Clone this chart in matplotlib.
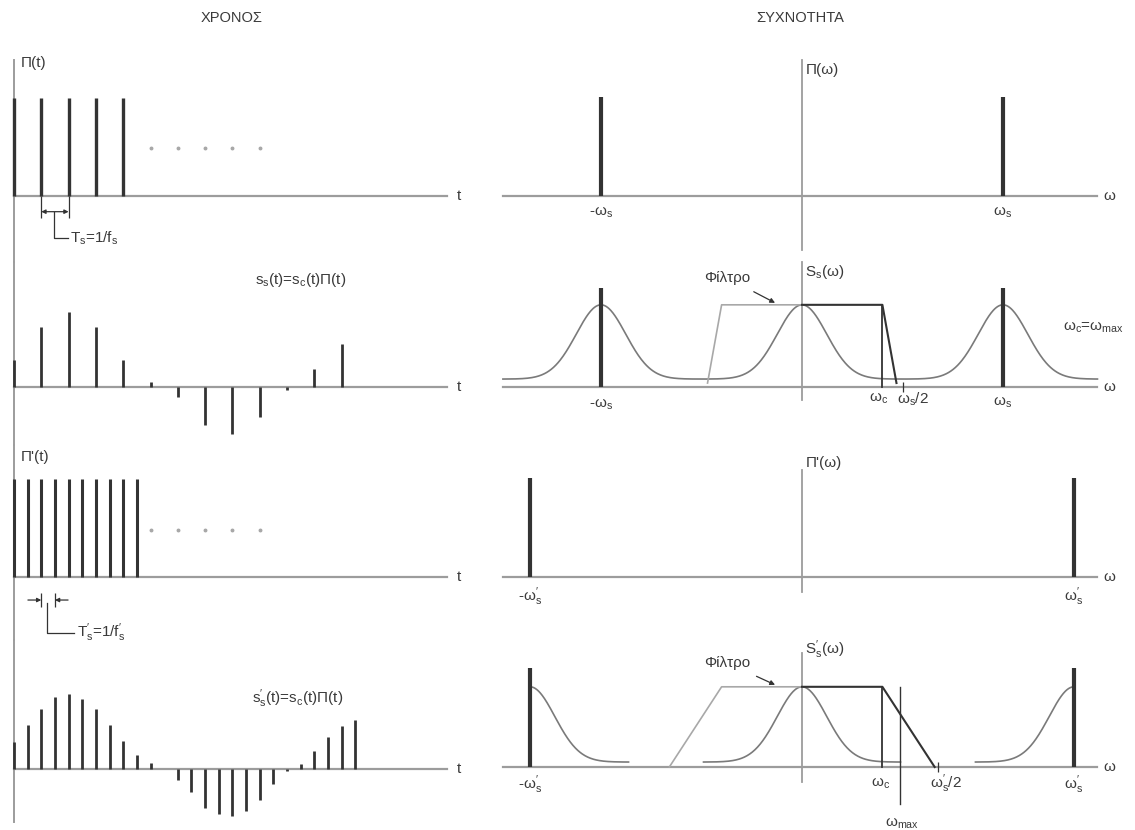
import numpy as np
import matplotlib
matplotlib.use("Agg")
import matplotlib.pyplot as plt

plt.rcParams['font.family'] = ['Liberation Sans', 'DejaVu Sans']
plt.rcParams['mathtext.fontset'] = 'custom'
plt.rcParams['mathtext.rm'] = 'Liberation Sans'
plt.rcParams['mathtext.it'] = 'Liberation Sans'
plt.rcParams['mathtext.default'] = 'regular'

# ---------------- data ----------------
titles = ["ΧΡΟΝΟΣ", "ΣΥΧΝΟΤΗΤΑ"]

# time domain (t measured in units of T_s)
Ts = 1.0
Ts_fast = 0.5
pulse_count = 5
pulse_count_fast = 10
ellipsis_t = [5, 6, 7, 8, 9]
ellipsis_level = 0.49
ss_samples = [0.28, 0.61, 0.77, 0.61, 0.28, 0.05, -0.10, -0.39, -0.48,
              -0.31, -0.03, 0.18, 0.44]
ss_fast_samples = [0.28, 0.45, 0.61, 0.73, 0.77, 0.71, 0.61, 0.45, 0.29,
                   0.14, 0.06, 0.0, -0.11, -0.23, -0.40, -0.46, -0.48, -0.43,
                   -0.32, -0.15, -0.02, 0.05, 0.18, 0.33, 0.44, 0.50]

# frequency domain (ω measured in units of ω_s)
ws = 1.0
ws_fast = 1.353
wc = 0.40
wmax_fast = 0.49
spec_sigma = 0.123
spec_floor = [0.08, 0.05]
spec_peak = [0.83, 0.81]
spec_halfwidth = 0.49
filter_stop = [0.47, 0.66]

W, H = 1135, 830
fig = plt.figure(figsize=(W / 100, H / 100), dpi=100)
fig.patch.set_facecolor('white')

AXIS = '#9c9c9c'
DARK = '#333333'
CURVE = '#7a7a7a'
LIGHT = '#a8a8a8'
TXT = '#3a3a3a'
FS = 11
FS_TITLE = 10.5
P = r"^{\prime}"


def panel(left, right, top, bottom, x0, xu, y0, yu):
    ax = fig.add_axes([left / W, 1 - bottom / H, (right - left) / W, (bottom - top) / H])
    ax.set_xlim((left - x0) / xu, (right - x0) / xu)
    ax.set_ylim((y0 - bottom) / yu, (y0 - top) / yu)
    ax.axis('off')
    return ax


def txt(ax, x, y, s, ha='left', size=FS, **kw):
    ax.text(x, y, s, ha=ha, va='center', fontsize=size, color=TXT, **kw)


# ---------------- time column ----------------
TX0, TXU = 14, 27.3
t_end = 15.86
bands = [(40, 262, 196), (262, 445, 387), (445, 640, 577), (640, 830, 769)]
tax = [panel(0, 480, b[0], b[1], TX0, TXU, b[2], 98) for b in bands]

# continuous vertical time axis
for i, ax in enumerate(tax):
    lo, hi = ax.get_ylim()
    if i == 0:
        hi = 1.39
    if i == 3:
        lo = -0.54
    ax.plot([0, 0], [lo, hi], color=AXIS, lw=1.4, clip_on=False)
    ax.plot([0, t_end], [0, 0], color=AXIS, lw=1.6)
    txt(ax, 16.3, 0, 't', ha='center')

# Π(t)
ax = tax[0]
pt = np.arange(pulse_count) * Ts
ax.vlines(pt, 0, 1.0, color=DARK, lw=2.4)
ax.plot(ellipsis_t, [ellipsis_level] * len(ellipsis_t), 'o', ms=1.8, color=LIGHT)
txt(ax, 0.25, 1.36, 'Π(t)')
ya = -0.16
ax.vlines([Ts, 2 * Ts], 0, -0.22, color=DARK, lw=0.9)
ax.annotate('', xy=(Ts, ya), xytext=(2 * Ts, ya),
            arrowprops=dict(arrowstyle='<|-|>', color=DARK, lw=0.9,
                            mutation_scale=6, shrinkA=0, shrinkB=0))
ax.plot([1.47, 1.47, 1.98], [ya, -0.43, -0.43], color=DARK, lw=0.9)
txt(ax, 2.05, -0.43, r'$T_s$=1/$f_s$')

# s_s(t)
ax = tax[1]
ax.vlines(np.arange(len(ss_samples)) * Ts, 0, ss_samples, color=DARK, lw=2.0)
txt(ax, 8.83, 1.09, r'$s_s$(t)=$s_c$(t)Π(t)')

# Π'(t)
ax = tax[2]
pf = np.arange(pulse_count_fast) * Ts_fast
ax.vlines(pf, 0, 1.0, color=DARK, lw=2.2)
ax.plot(ellipsis_t, [0.48] * len(ellipsis_t), 'o', ms=1.8, color=LIGHT)
txt(ax, 0.25, 1.22, "Π'(t)")
ya = -0.235
ax.vlines([2 * Ts_fast, 3 * Ts_fast], -0.16, -0.31, color=DARK, lw=0.9)
ax.annotate('', xy=(2 * Ts_fast, ya), xytext=(2 * Ts_fast - 0.49, ya),
            arrowprops=dict(arrowstyle='-|>', color=DARK, lw=0.9,
                            mutation_scale=6, shrinkA=0, shrinkB=0))
ax.annotate('', xy=(3 * Ts_fast, ya), xytext=(3 * Ts_fast + 0.48, ya),
            arrowprops=dict(arrowstyle='-|>', color=DARK, lw=0.9,
                            mutation_scale=6, shrinkA=0, shrinkB=0))
ax.plot([1.22, 1.22, 2.2], [-0.27, -0.57, -0.57], color=DARK, lw=0.9)
txt(ax, 2.3, -0.57, r"$T%s_s$=1/$f%s_s$" % (P, P))

# s'_s(t)
ax = tax[3]
ax.vlines(np.arange(len(ss_fast_samples)) * Ts_fast, 0, ss_fast_samples,
          color=DARK, lw=2.0)
txt(ax, 8.72, 0.72, r"$s%s_s$(t)=$s_c$(t)Π(t)" % P)

# ---------------- frequency column ----------------
FX0, FXU = 802, 201
w_lo, w_hi = -1.488, 1.47
rbands = [(40, 262, 196), (262, 445, 387), (445, 640, 577), (640, 830, 767)]
fax = [panel(490, 1135, b[0], b[1], FX0, FXU, b[2], 99) for b in rbands]
vert_ext = [(-0.55, 1.37), (-0.13, 1.26), (-0.15, 1.08), (-0.15, 1.15)]
for ax, (lo, hi) in zip(fax, vert_ext):
    ax.plot([0, 0], [lo, hi], color=AXIS, lw=1.3, clip_on=False)
    ax.plot([w_lo, w_hi], [0, 0], color=AXIS, lw=1.6)
    txt(ax, 1.53, 0, 'ω', ha='center')


def gauss(w, c, floor, peak):
    return floor + (peak - floor) * np.exp(-0.5 * ((w - c) / spec_sigma) ** 2)


def lowpass(ax, w_stop, top, bottom):
    ax.plot([-w_stop, -wc, 0], [bottom, top, top], color=LIGHT, lw=1.2)
    ax.plot([0, wc, w_stop], [top, top, bottom], color=DARK, lw=1.5)
    ax.plot([wc, wc], [top, 0], color=DARK, lw=1.3)


# Π(ω)
ax = fax[0]
ax.vlines([-ws, ws], 0, 1.0, color=DARK, lw=3.0)
txt(ax, 0.02, 1.27, 'Π(ω)')
txt(ax, -ws, -0.17, r'-$ω_s$', ha='center')
txt(ax, ws, -0.17, r'$ω_s$', ha='center')

# S_s(ω)
ax = fax[1]
w = np.linspace(w_lo, w_hi, 800)
s = spec_floor[0] + sum(gauss(w, c, 0, spec_peak[0] - spec_floor[0]) for c in (-ws, 0, ws))
ax.plot(w, s, color=CURVE, lw=1.2)
ax.vlines([-ws, ws], 0, 1.0, color=DARK, lw=3.0)
lowpass(ax, filter_stop[0], spec_peak[0], 0.04)
ax.vlines([ws / 2], -0.05, 0.05, color=DARK, lw=0.9)
ax.annotate('Φίλτρο', xy=(-0.134, spec_peak[0] + 0.02), xytext=(-0.37, 1.10),
            ha='center', va='center', fontsize=FS, color=TXT,
            arrowprops=dict(arrowstyle='-|>', color=DARK, lw=0.9,
                            mutation_scale=7, shrinkA=6, shrinkB=0))
txt(ax, 0.015, 1.16, r'$S_s$(ω)')
txt(ax, -ws, -0.18, r'-$ω_s$', ha='center')
txt(ax, wc - 0.02, -0.12, r'$ω_c$', ha='center')
txt(ax, 0.475, -0.12, r'$ω_s$/2')
txt(ax, ws, -0.16, r'$ω_s$', ha='center')
txt(ax, 1.30, 0.60, r'$ω_c$=$ω_{max}$')

# Π'(ω)
ax = fax[2]
ax.vlines([-ws_fast, ws_fast], 0, 1.0, color=DARK, lw=3.0)
txt(ax, 0.02, 1.15, "Π'(ω)")
txt(ax, -ws_fast, -0.20, r"-$ω%s_s$" % P, ha='center')
txt(ax, ws_fast, -0.20, r"$ω%s_s$" % P, ha='center')

# S'_s(ω)
ax = fax[3]
for c in (-ws_fast, 0, ws_fast):
    a = max(c - spec_halfwidth, -ws_fast)
    b = min(c + spec_halfwidth, ws_fast)
    wseg = np.linspace(a, b, 300)
    ax.plot(wseg, gauss(wseg, c, spec_floor[1], spec_peak[1]), color=CURVE, lw=1.2)
ax.vlines([-ws_fast, ws_fast], 0, 1.0, color=DARK, lw=3.0)
lowpass(ax, filter_stop[1], spec_peak[1], 0.0)
ax.vlines([ws_fast / 2], -0.05, 0.05, color=DARK, lw=0.9)
ax.plot([wmax_fast, wmax_fast], [-0.37, 0.81], color=DARK, lw=1.0)
ax.annotate('Φίλτρο', xy=(-0.134, spec_peak[1] + 0.02), xytext=(-0.37, 1.05),
            ha='center', va='center', fontsize=FS, color=TXT,
            arrowprops=dict(arrowstyle='-|>', color=DARK, lw=0.9,
                            mutation_scale=7, shrinkA=6, shrinkB=0))
txt(ax, 0.015, 1.18, r"$S%s_s$(ω)" % P)
txt(ax, -ws_fast, -0.18, r"-$ω%s_s$" % P, ha='center')
txt(ax, wc - 0.01, -0.17, r'$ω_c$', ha='center')
txt(ax, 0.635, -0.17, r"$ω%s_s$/2" % P)
txt(ax, ws_fast, -0.18, r"$ω%s_s$" % P, ha='center')
txt(ax, 0.50, -0.57, r'$ω_{max}$', ha='center')

fig.text(232 / W, 1 - 18 / H, titles[0], ha='center', va='center', fontsize=FS_TITLE, color=TXT)
fig.text(800 / W, 1 - 18 / H, titles[1], ha='center', va='center', fontsize=FS_TITLE, color=TXT)

fig.savefig('out.png', dpi=100, facecolor='white')
